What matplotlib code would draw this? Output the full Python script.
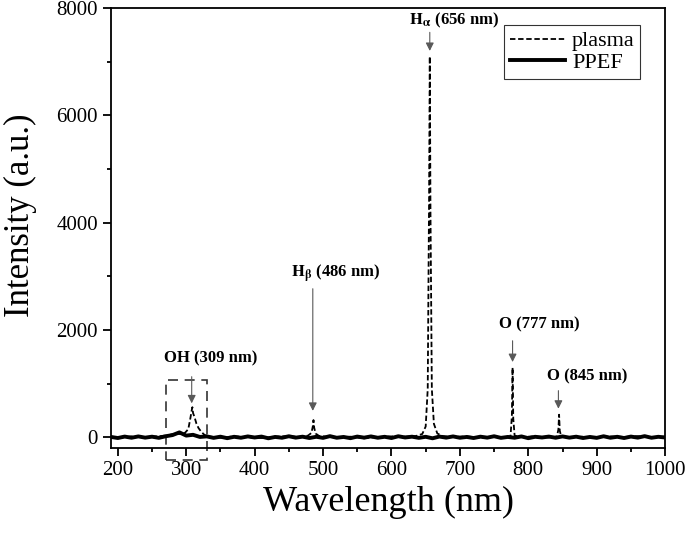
import matplotlib
matplotlib.use("Agg")
import matplotlib.pyplot as plt
from matplotlib.patches import Rectangle
from matplotlib.ticker import MultipleLocator

plt.rcParams['font.family'] = ['Liberation Serif', 'DejaVu Serif']
plt.rcParams['mathtext.fontset'] = 'stix'

# plasma spectrum (dashed)
plasma_wl = [190, 205, 220, 235, 250, 262, 275, 283, 290, 298, 303, 306, 308, 309, 310,
             312, 315, 318, 322, 327, 335, 350, 370, 390, 410, 430, 450, 465, 478, 483,
             485, 486, 487, 489, 494, 505, 520, 540, 560, 580, 600, 620, 635, 645, 650,
             653, 655, 656, 657, 659, 662, 667, 675, 690, 710, 730, 750, 765, 774, 776,
             777, 778, 780, 790, 805, 820, 835, 842, 844, 845, 846, 848, 860, 880, 900,
             920, 940, 960, 980, 1000]
plasma_int = [10, -5, 15, 0, 10, 20, 40, 70, 60, 80, 150, 350, 500, 560, 450,
              380, 250, 170, 100, 40, 10, -10, 15, 0, -15, 10, 20, 5, 30, 80,
              200, 320, 180, 70, 25, 10, -5, 10, -20, 5, 15, 10, 20, 60, 200,
              900, 4500, 7100, 4200, 900, 250, 70, 20, 5, 15, -10, 10, 0, 20, 400,
              1300, 350, 30, 0, 15, 5, -10, 20, 150, 420, 120, 20, 0, 10, -5,
              15, 5, 20, 0, 10]

# PPEF spectrum (solid), mostly flat baseline
ppef_wl = list(range(190, 1001, 10))
ppef_int = [5, -15, 12, -10, 15, -8, 10, -12, 18, 40, 90, 30, 45, 5, 15, -12, 10, -18,
            8, -10, 15, -5, 12, -20, 5, -10, 18, -8, 10, -15, 8, -12, 20, -10, 5, -18,
            12, -8, 15, -10, 8, -15, 18, -5, 10, -12, 8, -20, 12, -8, 15, -10, 5, -15,
            10, -8, 18, -12, 5, -10, 15, -18, 8, -5, 12, -10, 15, -8, 10, -15, 5, -12,
            18, -10, 8, -15, 12, -8, 20, -10, 8, -5]

# line labels: (text, peak wavelength, arrow tip, arrow start, text x, text bottom y)
labels = [
    (r'$\mathbf{H_\alpha}$ (656 nm)', 656, 7150, 7600, 692, 7600),
    (r'$\mathbf{H_\beta}$ (486 nm)', 485, 440, 2820, 518, 2840),
    ('OH (309 nm)', 308, 580, 1180, 336, 1320),
    ('O (777 nm)', 777, 1350, 1850, 816, 1960),
    ('O (845 nm)', 844, 480, 920, 886, 980),
]

fig = plt.figure(figsize=(6.85, 5.41), dpi=100)
ax = fig.add_axes([0.162, 0.172, 0.809, 0.813])

ax.plot(plasma_wl, plasma_int, color='black', lw=1.3, ls=(0, (3, 1.5)), label='plasma')
ax.plot(ppef_wl, ppef_int, color='black', lw=2.8, label='PPEF')

for txt, x, tip, start, tx, ty in labels:
    ax.annotate('', xy=(x, tip), xytext=(x, start),
                arrowprops=dict(arrowstyle='-|>', color='0.35', lw=0.8, mutation_scale=12))
    ax.text(tx, ty, txt, ha='center', va='bottom', fontsize=12, fontweight='bold')

# dashed box around the OH band
ax.add_patch(Rectangle((270, -430), 60, 1490, fill=False, ls=(0, (6, 4)),
                       lw=1.2, ec='0.2', clip_on=False))

ax.set_xlim(190, 1000)
ax.set_ylim(-200, 8000)
ax.xaxis.set_major_locator(MultipleLocator(100))
ax.xaxis.set_minor_locator(MultipleLocator(50))
ax.yaxis.set_major_locator(MultipleLocator(2000))
ax.yaxis.set_minor_locator(MultipleLocator(1000))
ax.tick_params(which='both', direction='out', labelsize=15)
ax.tick_params(which='major', length=6, width=1.3)
ax.tick_params(which='minor', length=3, width=1.3)
for s in ax.spines.values():
    s.set_linewidth(1.3)

ax.set_xlabel('Wavelength (nm)', fontsize=26, labelpad=4)
ax.set_ylabel('Intensity (a.u.)', fontsize=25)
ax.yaxis.set_label_coords(-0.134, 0.53)

leg = ax.legend(loc='upper right', bbox_to_anchor=(0.955, 0.961), borderaxespad=0,
                fontsize=16, fancybox=False, edgecolor='black', handlelength=2.5,
                handletextpad=0.3, borderpad=0.25, labelspacing=0.05)
leg.get_frame().set_linewidth(0.8)

fig.savefig('out.png', dpi=100)
